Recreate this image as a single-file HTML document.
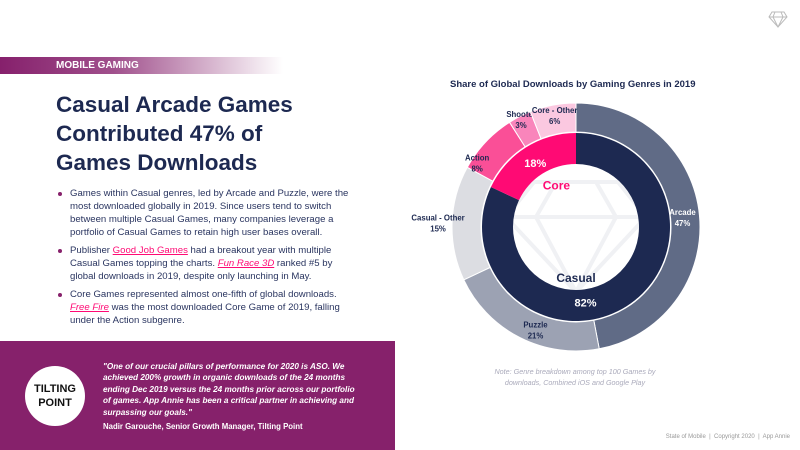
<!DOCTYPE html>
<html><head><meta charset="utf-8"><style>
body{margin:0;width:800px;height:450px;overflow:hidden;background:#fff;font-family:"Liberation Sans",sans-serif;position:relative}
.a{position:absolute}
h1{position:absolute;left:56px;top:90px;margin:0;font-size:22.5px;line-height:29px;color:#1d2951;font-weight:bold}
ul{position:absolute;left:56px;top:187px;margin:0;padding:0;list-style:none;width:300px;font-size:9.6px;line-height:13px;color:#2a3560}
li{position:relative;padding-left:14px;margin-bottom:5px}
li:before{content:"";position:absolute;left:2px;top:5px;width:4px;height:4px;border-radius:50%;background:#87216b}
.lk{color:#ff0a74;text-decoration:underline}
</style></head><body>
<div class="a" style="left:0;top:57px;width:283px;height:17px;background:linear-gradient(90deg,#86206c 0%,#a0508c 40%,#fff 100%);color:#fff;font-weight:bold;font-size:10px;line-height:17px"><span style="margin-left:56px">MOBILE GAMING</span></div>
<svg class="a" style="left:768px;top:10px" width="20" height="18" viewBox="0 0 20 18"><path d="M4 2h12l3 5-9 10L1 7z M1 7h18 M7 2l-2 5 5 10 5-10-2-5" fill="none" stroke="#bbb" stroke-width="1"/></svg>
<h1>Casual Arcade Games<br>Contributed 47% of<br>Games Downloads</h1>
<ul>
<li>Games within Casual genres, led by Arcade and Puzzle, were the most downloaded globally in 2019. Since users tend to switch between multiple Casual Games, many companies leverage a portfolio of Casual Games to retain high user bases overall.</li>
<li>Publisher <span class="lk">Good Job Games</span> had a breakout year with multiple Casual Games topping the charts. <i class="lk">Fun Race 3D</i> ranked #5 by global downloads in 2019, despite only launching in May.</li>
<li>Core Games represented almost one-fifth of global downloads. <i class="lk">Free Fire</i> was the most downloaded Core Game of 2019, falling under the Action subgenre.</li>
</ul>
<div class="a" style="left:0;top:341px;width:395px;height:109px;background:#86216b">
<div class="a" style="left:25px;top:25px;width:60px;height:60px;border-radius:50%;background:#fff;color:#111;font-weight:bold;font-size:11px;line-height:14px;text-align:center;display:flex;align-items:center;justify-content:center">TILTING<br>POINT</div>
<div class="a" style="left:103px;top:20px;width:255px;font-size:8.2px;line-height:11.4px;color:#fff;font-style:italic;font-weight:bold">"One of our crucial pillars of performance for 2020 is ASO. We achieved 200% growth in organic downloads of the 24 months ending Dec 2019 versus the 24 months prior across our portfolio of games. App Annie has been a critical partner in achieving and surpassing our goals."</div>
<div class="a" style="left:103px;top:81px;font-size:7.8px;color:#fff;font-weight:bold">Nadir Garouche, Senior Growth Manager, Tilting Point</div>
</div>
<div class="a" style="left:450px;top:79px;font-size:9.5px;font-weight:bold;color:#1d2951">Share of Global Downloads by Gaming Genres in 2019</div>
<svg class="a" id="chart" style="left:0;top:0" width="800" height="450"></svg>
<div class="a" style="left:480px;top:366px;width:190px;text-align:center;font-size:7.2px;line-height:11px;color:#aab;font-style:italic">Note: Genre breakdown among top 100 Games by downloads, Combined iOS and Google Play</div>
<div class="a" style="right:10px;top:434px;font-size:6px;color:#999">State of Mobile &nbsp;|&nbsp; Copyright 2020 &nbsp;|&nbsp; App Annie</div>
<script>
const outerLabels=["Arcade","Puzzle","Casual - Other","Action","Shooter","Core - Other"];
const outerValues=[47,21,15,8,3,6];
const innerLabels=["Casual","Core"];
const innerValues=[82,18];
const outerColors=["#606b86","#9ca2b3","#dcdde2","#fa4f97","#f985bb","#fbc8e0"];
const innerColors=["#1d2951","#ff0a74"];
const labelR=[107,110,138,118,121,114];
const labelShift=[0,-1.5,0,-2.8,0,0];
const cx=576,cy=227,NS="http://www.w3.org/2000/svg";
const svg=document.getElementById('chart');
function pt(a,r){const t=a/100*2*Math.PI;return [cx+r*Math.sin(t),cy-r*Math.cos(t)];}
function arc(a0,a1,r0,r1){const p=[pt(a0,r1),pt(a1,r1),pt(a1,r0),pt(a0,r0)];const l=(a1-a0)>50?1:0;
return `M${p[0]}A${r1},${r1} 0 ${l} 1 ${p[1]}L${p[2]}A${r0},${r0} 0 ${l} 0 ${p[3]}Z`;}
function mk(tag,attrs){const e=document.createElementNS(NS,tag);for(const k in attrs)e.setAttribute(k,attrs[k]);svg.appendChild(e);return e;}
const w=mk('path',{d:`M${cx-42},${cy-45}h84l28,35-70,75-70-75z M${cx-70},${cy-10}h140 M${cx-20},${cy-45}l-20,35 40,75 40-75-20-35`,fill:'none',stroke:'#f0f1f4','stroke-width':4});


let acc=0;
outerValues.forEach((v,i)=>{
 const p=mk('path',{d:arc(acc,acc+v,95,124),fill:outerColors[i],stroke:'#fff','stroke-width':1});
 
 
 const [x,y]=pt(acc+v/2+labelShift[i],labelR[i]);
 const col=i==0?'#fff':'#1d2951';
 const t=mk('text',{x:x,y:y-2,'text-anchor':'middle','font-size':7.8,'font-weight':'bold',fill:col});
 
 
 t.innerHTML=`<tspan x="${x}">${outerLabels[i]}</tspan><tspan x="${x}" dy="11">${v}%</tspan>`;
 acc+=v;
});
acc=0;
innerValues.forEach((v,i)=>{
 const p=mk('path',{d:arc(acc,acc+v,63,94),fill:innerColors[i]});
 
 
 const mid=i==0?48:acc+v/2;
 const [x,y]=pt(mid,76);
 const t=mk('text',{x:x,y:y+4,'text-anchor':'middle','font-size':11,'font-weight':'bold',fill:'#fff'});
 t.textContent=v+'%';
 
 
 const [x2,y2]=i==0?pt(50,51):pt(acc+v/2+2,46);
 const t2=mk('text',{x:x2,y:y2+4,'text-anchor':'middle','font-size':12,'font-weight':'bold',fill:innerColors[i]});
 t2.textContent=innerLabels[i];
 
 
 acc+=v;
});
</script>
</body></html>
